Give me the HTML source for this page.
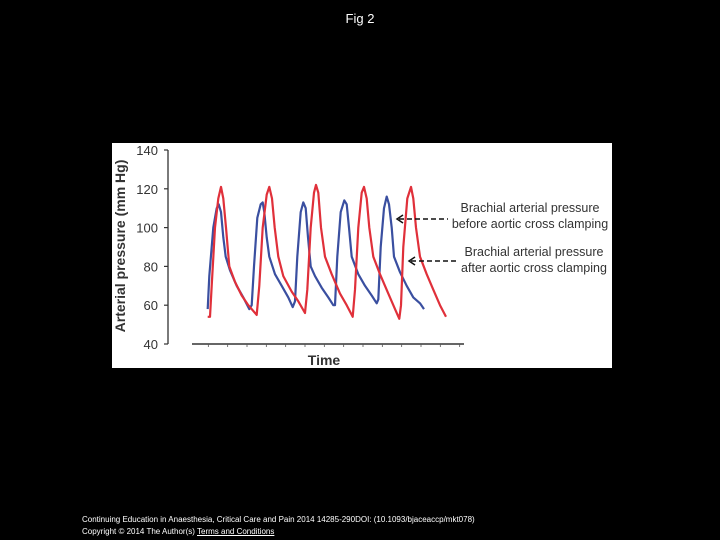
<!DOCTYPE html>
<html><head><meta charset="utf-8"><style>
html,body{margin:0;padding:0;background:#000;width:720px;height:540px;overflow:hidden;font-family:"Liberation Sans",sans-serif}
</style></head><body>
<div style="position:absolute;left:0;width:720px;top:11px;text-align:center;color:#fff;font-size:13px">Fig 2</div>
<svg width="720" height="540" style="position:absolute;left:0;top:0" xmlns="http://www.w3.org/2000/svg">
<rect x="112" y="143" width="500" height="225" fill="#fff"/>
<g id="plot"></g>
<text transform="translate(125,246) rotate(-90)" text-anchor="middle" font-size="14" font-weight="bold" fill="#333" font-family="Liberation Sans, sans-serif">Arterial pressure (mm Hg)</text>
<text x="324" y="365" text-anchor="middle" font-size="14" font-weight="bold" fill="#333" font-family="Liberation Sans, sans-serif">Time</text>
<g font-size="12.5" fill="#333" font-family="Liberation Sans, sans-serif" text-anchor="middle">
<text x="530" y="212">Brachial arterial pressure</text>
<text x="530" y="228">before aortic cross clamping</text>
</g>
<g font-size="12.5" fill="#333" font-family="Liberation Sans, sans-serif" text-anchor="middle">
<text x="534" y="256">Brachial arterial pressure</text>
<text x="534" y="272">after aortic cross clamping</text>
</g>
<g stroke="#111" stroke-width="1.5" fill="none">
<line x1="399" y1="219" x2="448" y2="219" stroke-dasharray="5,3"/>
<path d="M403,215 L397,219 L403,223"/>
</g>
<g stroke="#111" stroke-width="1.5" fill="none">
<line x1="411" y1="261" x2="456" y2="261" stroke-dasharray="5,3"/>
<path d="M415,257 L409,261 L415,265"/>
</g>
</svg>
<div style="position:absolute;left:82px;top:514px;color:#fff;font-size:8px;line-height:12px">Continuing Education in Anaesthesia, Critical Care and Pain 2014 14285-290DOI: (10.1093/bjaceaccp/mkt078)<br>Copyright © 2014 The Author(s) <span style="text-decoration:underline">Terms and Conditions</span></div>
<script>
const yTicks=[40,60,80,100,120,140];
const blueT=[293,298,310,320,326,333,340,347,360,380,400,418,425,432,442,452,458,463,470,478,495,515,535,548,555,562,572,580,587,594,602,615,635,655,670,675,682,692,703,710,717,725,745,765,785,800,805,812,822,830,837,845,852,870,890,910,930,942];
const blueP=[58,75,100,110,112,108,95,85,78,70,64,58,60,80,105,112,113,108,95,85,76,70,64,59,62,85,108,113,110,95,80,75,69,64,60,60,85,108,114,112,100,85,76,70,65,61,63,90,110,116,112,100,85,77,70,64,61,58];
const redT=[293,300,305,315,325,333,340,348,358,375,395,415,440,448,458,470,478,486,494,505,520,545,565,585,592,602,612,618,625,633,645,665,690,710,728,735,745,755,762,770,778,790,810,835,855,868,873,880,892,903,910,918,930,950,970,990,1008];
const redP=[54,54,70,100,115,121,115,100,80,72,65,60,55,70,100,117,121,115,100,85,75,67,62,56,68,100,118,122,118,100,85,76,66,60,54,68,100,118,121,115,100,85,76,66,58,53,60,90,115,121,115,100,85,76,68,60,54];
const xTickCount=15;
const ns="http://www.w3.org/2000/svg";
const g=document.getElementById('plot');
const X=t=>110+t/3;
const Y=v=>344-(v-40)*1.94;
function mk(tag,attrs){const e=document.createElementNS(ns,tag);for(const k in attrs)e.setAttribute(k,attrs[k]);g.appendChild(e);return e;}
const ya=mk('line',{x1:168,y1:Y(140),x2:168,y2:Y(40),stroke:'#333','stroke-width':1.3});


yTicks.forEach(v=>{
 const t=mk('line',{x1:164,y1:Y(v),x2:168,y2:Y(v),stroke:'#333','stroke-width':1.2});
 
 
 const l=mk('text',{x:158,y:Y(v)+5,'text-anchor':'end','font-size':13,fill:'#333','font-family':'Liberation Sans, sans-serif'});
 l.textContent=v;
 
 
});
const xa=mk('line',{x1:192,y1:344,x2:464,y2:344,stroke:'#333','stroke-width':1.5});


for(let i=0;i<xTickCount;i++){
 const x=X(295+i*58/1);
 if(x>464)break;
 const t=mk('line',{x1:x,y1:344,x2:x,y2:347,stroke:'#555','stroke-width':0.8});
 
 
}
function series(T,P,col,name){
 const d=T.map((t,i)=>(i?'L':'M')+X(t).toFixed(1)+','+Y(P[i]).toFixed(1)).join(' ');
 const p=mk('path',{d:d,fill:'none',stroke:col,'stroke-width':2.2,'stroke-linejoin':'round'});
 
 
}
series(blueT,blueP,'#3a4fa0','series-before-clamping');
series(redT,redP,'#e0303a','series-after-clamping');
</script>
</body></html>
